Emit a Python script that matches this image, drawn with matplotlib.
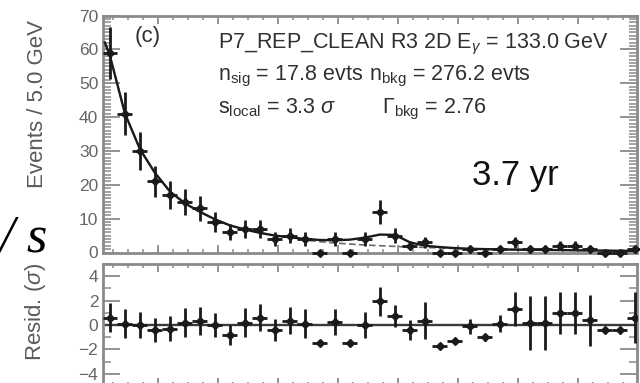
import numpy as np
import matplotlib.pyplot as plt
from matplotlib.ticker import MultipleLocator, NullFormatter

plt.rcParams['font.family'] = ['Liberation Sans', 'DejaVu Sans']
plt.rcParams['mathtext.fontset'] = 'custom'
plt.rcParams['mathtext.rm'] = 'Liberation Sans'
plt.rcParams['mathtext.it'] = 'Liberation Sans:italic'
plt.rcParams['mathtext.bf'] = 'Liberation Sans:bold'

# 5 GeV bins, centres in GeV
energy = np.arange(44, 220, 5)
counts = [59, 41, 30, 21, 17, 15, 13, 9, 6, 7, 7, 4, 5, 4, 0, 4, 0, 4,
          12, 5, 2, 3, 0, 0, 1, 0, 1, 3, 1, 1, 2, 2, 1, 0, 0, 1]
count_err = [7.7, 6.4, 5.5, 4.6, 4.1, 3.9, 3.6, 3.0, 2.4, 2.6, 2.6, 2.0, 2.2, 2.0, 0, 2.0, 0, 2.0,
             3.5, 2.2, 1.4, 1.7, 0, 0, 1.0, 0, 1.0, 1.7, 1.0, 1.0, 1.4, 1.4, 1.0, 0, 0, 1.0]
# fitted model (signal + background) and background only, read at bin centres
model = [58, 41, 30.5, 23.5, 18, 14.5, 12, 9.8, 8.0, 6.8, 5.8, 5.0, 4.5, 4.0, 3.7, 3.6, 3.8, 4.4,
         5.3, 5.2, 3.0, 2.0, 1.6, 1.3, 1.1, 1.0, 0.9, 0.85, 0.8, 0.75, 0.7, 0.65, 0.6, 0.55, 0.5, 0.5]
bkg = [58, 41, 30.5, 23.5, 18, 14.5, 12, 9.8, 8.0, 6.8, 5.8, 5.0, 4.5, 3.7, 3.2, 2.8, 2.5, 2.2,
       2.0, 1.8, 1.6, 1.5, 1.35, 1.2, 1.05, 0.98, 0.9, 0.85, 0.8, 0.75, 0.7, 0.65, 0.6, 0.55, 0.5, 0.5]
model_start = (42.3, 62)

resid = [0.6, 0.1, 0.0, -0.4, -0.3, 0.2, 0.35, 0.0, -0.8, 0.2, 0.6, -0.4, 0.35, 0.1, -1.5, 0.25, -1.5, 0.0,
         1.95, 0.7, -0.4, 0.35, -1.7, -1.35, -0.1, -1.0, 0.1, 1.3, 0.15, 0.15, 1.0, 1.0, 0.4, -0.4, -0.4, 0.6]
resid_err = [1.2, 1.2, 1.05, 1.0, 1.05, 1.2, 1.15, 1.0, 0.8, 1.2, 1.1, 0.9, 1.1, 1.2, 0, 1.1, 0, 1.1,
             1.2, 0.9, 0.8, 1.5, 0, 0, 0.6, 0.3, 0.7, 1.4, 2.2, 2.2, 1.7, 1.7, 2.1, 0, 0, 2.1]

W, H = 640, 383
fig = plt.figure(figsize=(W / 100, H / 100), dpi=100)


def box(x0, y0, x1, y1):
    return [x0 / W, 1 - y1 / H, (x1 - x0) / W, (y1 - y0) / H]


def px(x, y):
    return x / W, 1 - y / H


spine_c = '#8a8a8a'
tick_c = '#666666'
ink = '#1a1a1a'

ax1 = fig.add_axes(box(102.5, 15.5, 637, 252.5))
ax2 = fig.add_axes(box(102.5, 264, 637, 386))

for ax in (ax1, ax2):
    ax.set_xlim(41.5, 219.7)
    for s in ax.spines.values():
        s.set_color(spine_c)
        s.set_linewidth(2.0)
    ax.xaxis.set_major_locator(MultipleLocator(20))
    ax.xaxis.set_minor_locator(MultipleLocator(5))
    ax.xaxis.set_major_formatter(NullFormatter())
    ax.tick_params(which='both', direction='in', top=True, right=True, color=spine_c,
                   labelcolor=tick_c, labelsize=12.5, pad=3)
    ax.tick_params(axis='x', which='major', length=6, width=1.3)
    ax.tick_params(axis='x', which='minor', length=3, width=1.1)
    ax.tick_params(axis='y', which='major', length=12, width=1.3)
    ax.tick_params(axis='y', which='minor', length=6, width=1.1)

# top panel
ax1.set_ylim(0, 70)
ax1.yaxis.set_major_locator(MultipleLocator(10))
ax1.yaxis.set_minor_locator(MultipleLocator(1))
ax1.plot(np.concatenate(([model_start[0]], energy)), np.concatenate(([model_start[1]], model)),
         color=ink, lw=1.7, zorder=3)
ax1.plot(energy, bkg, color='#6a6a6a', lw=1.2, ls=(0, (4, 2)), zorder=2)
ax1.errorbar(energy, counts, xerr=2.5, yerr=count_err, fmt='D', ms=4.5, mfc=ink, mec=ink,
             ecolor=ink, elinewidth=2.0, capsize=0, zorder=4, clip_on=False)

# residual panel
ax2.set_ylim(-5, 5)
ax2.yaxis.set_minor_locator(MultipleLocator(1))
ax2.set_yticks([-4, -2, 0, 2, 4])
ax2.axhline(0, color='#3a3a3a', lw=1.7, zorder=2)
ax2.errorbar(energy, resid, xerr=2.5, yerr=resid_err, fmt='D', ms=4.5, mfc=ink, mec=ink,
             ecolor=ink, elinewidth=2.0, capsize=0, zorder=4)

txt_c = '#303030'
fs = 15.5
fig.text(*px(135, 42), '(c)', fontsize=16, color=txt_c, va='baseline')
fig.text(*px(218, 48), r'P7_REP_CLEAN R3 2D E$_{\gamma}$ = 133.0 GeV', fontsize=fs,
         color=txt_c, va='baseline')
fig.text(*px(218, 80), r'n$_{\rm sig}$ = 17.8 evts', fontsize=fs, color=txt_c, va='baseline')
fig.text(*px(369, 80), r'n$_{\rm bkg}$ = 276.2 evts', fontsize=fs, color=txt_c, va='baseline')
fig.text(*px(218, 113), r's$_{\rm local}$ = 3.3 $\sigma$', fontsize=fs, color=txt_c, va='baseline')
fig.text(*px(382, 113), r'$\Gamma_{\rm bkg}$ = 2.76', fontsize=fs, color=txt_c, va='baseline')
fig.text(*px(472, 185), '3.7 yr', fontsize=25, color='#111111', va='baseline')

fig.text(*px(38, 103.5), 'Events / 5.0 GeV', rotation=90, fontsize=16, color='#5a5a5a',
         ha='center', va='center')
fig.text(*px(36, 312), r'Resid. ($\sigma$)', rotation=90, fontsize=16, color='#5a5a5a',
         ha='center', va='center')

fig.text(*px(-1, 251), '/ s', fontsize=38, family='Liberation Serif', style='italic',
         color='#000000', va='baseline')

fig.savefig('out.png', dpi=100)
